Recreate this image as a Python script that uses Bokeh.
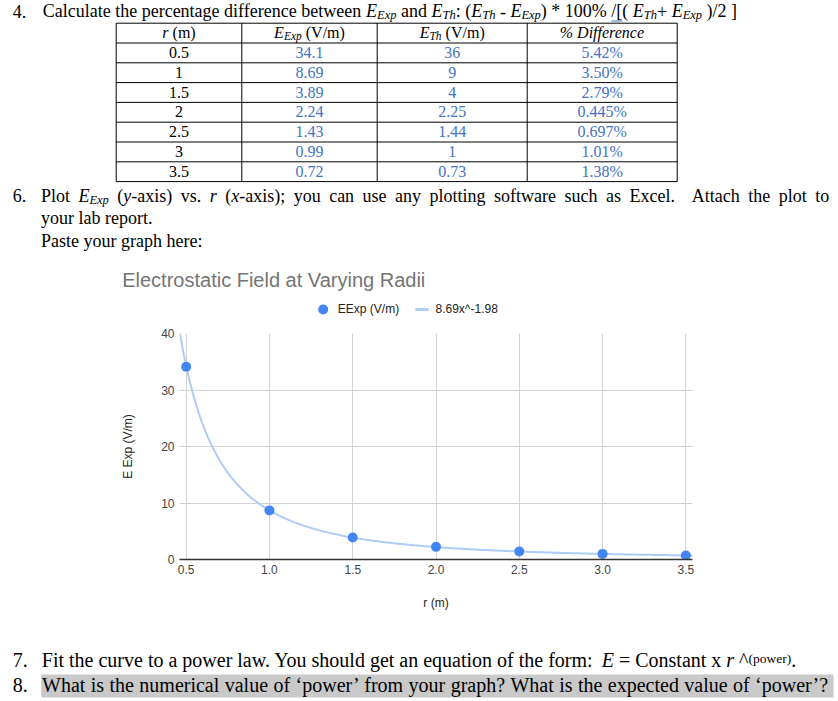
import re
import numpy as np
from bokeh.plotting import figure
from bokeh.models import Range1d, FixedTicker, NumeralTickFormatter, ColumnDataSource
from bokeh.layouts import column
from bokeh.embed import file_html
from bokeh.resources import INLINE
from bokeh.core.properties import value

# ---------------- data ----------------
r_labels = ["0.5", "1", "1.5", "2", "2.5", "3", "3.5"]
e_exp_labels = ["34.1", "8.69", "3.89", "2.24", "1.43", "0.99", "0.72"]
e_th_labels = ["36", "9", "4", "2.25", "1.44", "1", "0.73"]
pct_diff_labels = ["5.42%", "3.50%", "2.79%", "0.445%", "0.697%", "1.01%", "1.38%"]

r_m = [0.5, 1.0, 1.5, 2.0, 2.5, 3.0, 3.5]
e_exp = [34.1, 8.69, 3.89, 2.24, 1.43, 0.99, 0.72]
fit_coef = 8.69
fit_power = -1.98

x_ticks = [0.5, 1.0, 1.5, 2.0, 2.5, 3.0, 3.5]
y_ticks = [0, 10, 20, 30, 40]

chart_title = "Electrostatic Field at Varying Radii"
legend_labels = ["EExp (V/m)", "8.69x^-1.98"]
y_title = "E Exp (V/m)"
x_title = "r (m)"

# ---------------- styles / layout ----------------
SERIF = "Liberation Serif"
SANS = "Liberation Sans"
K_SERIF = 0.3375   # (ascent - descent)/2, baseline below "middle"
K_SANS = 0.3467
W = 838
TOP_H, CHART_H, BOT_H = 323, 307, 70
BODY = 18
BIG = 20
SUB = 12.5
TAB = 16
TSUB = 11.5
BLUE_TXT = "#4472c4"

# Times (Liberation Serif) advance widths, 1/1000 em
TR = {' ': 250, '!': 333, '"': 408, '%': 833, '&': 778, "'": 180, '(': 333, ')': 333,
      '*': 500, '+': 564, ',': 250, '-': 333, '.': 250, '/': 278, ':': 278, ';': 278,
      '=': 564, '?': 444, '[': 333, ']': 333, '^': 469, '\u2018': 333, '\u2019': 333}
TR.update(dict(zip("ABCDEFGHIJKLMNOPQRSTUVWXYZ",
                   [722, 667, 667, 722, 611, 556, 722, 722, 333, 389, 722, 611, 889,
                    722, 722, 556, 722, 667, 556, 611, 722, 722, 944, 722, 722, 611])))
TR.update(dict(zip("abcdefghijklmnopqrstuvwxyz",
                   [444, 500, 444, 500, 444, 333, 500, 500, 278, 278, 500, 278, 778,
                    500, 500, 500, 500, 333, 389, 278, 500, 500, 722, 500, 500, 444])))
TI = dict(TR)
TI.update({'(': 333, ')': 333, ':': 333, '%': 833})
TI.update(dict(zip("ABCDEFGHIJKLMNOPQRSTUVWXYZ",
                   [611, 611, 667, 722, 611, 611, 722, 722, 333, 444, 667, 556, 833,
                    667, 722, 611, 722, 611, 500, 556, 722, 611, 833, 611, 556, 556])))
TI.update(dict(zip("abcdefghijklmnopqrstuvwxyz",
                   [500, 500, 444, 500, 444, 278, 500, 500, 278, 278, 444, 278, 722,
                    500, 500, 500, 500, 389, 389, 278, 500, 444, 667, 444, 444, 389])))


def rw(t, sty, size):
    tab = TI if sty == "italic" else TR
    return sum(tab.get(c, 500) for c in t) * size / 1000.0


def new_rows():
    return dict(x=[], y=[], text=[], fs=[], fst=[], col=[])


def add(rows, x, base, t, size, sty, col, k=K_SERIF):
    # base = alphabetic baseline; stored y is the text's middle
    rows["x"].append(x)
    rows["y"].append(base - k * size)
    rows["text"].append(t)
    rows["fs"].append(f"{size}px")
    rows["fst"].append(sty)
    rows["col"].append(col)


def place_runs(rows, x, y, runs, col="#000000"):
    for t, sty, size, dy in runs:
        lead = len(t) - len(t.lstrip(" "))
        body = t.strip(" ")
        if body:
            add(rows, x + rw(" " * lead, sty, size), y + dy, body, size, sty, col)
        x += rw(t, sty, size)
    return x


def place_justified(rows, x, y, runs, right, col="#000000"):
    items = []
    for t, sty, size, dy in runs:
        for part in re.split(r"( +)", t):
            if part:
                items.append((part, sty, size, dy))
    natural = sum(rw(p, s, z) for p, s, z, d in items)
    nsp = sum(len(p) for p, s, z, d in items if p.startswith(" "))
    extra = max(0.0, (right - x - natural) / nsp)
    for p, s, z, d in items:
        if p.startswith(" "):
            x += rw(p, s, z) + extra * len(p)
        else:
            add(rows, x, y + d, p, z, s, col)
            x += rw(p, s, z)


def place_centered(rows, cx, y, runs, col="#000000"):
    total = sum(rw(t, s, z) for t, s, z, d in runs)
    place_runs(rows, cx - total / 2.0, y, runs, col)


def R(t, size=BODY, dy=0):
    return (t, "normal", size, dy)


def I(t, size=BODY, dy=0):
    return (t, "italic", size, dy)


def S(t, size=SUB, dy=2):
    return (t, "italic", size, dy)


def draw(p, rows, font, align="left"):
    p.text(x="x", y="y", text="text", source=ColumnDataSource(rows),
           text_font=value(font), text_font_size="fs", text_font_style="fst",
           text_color="col", text_align=align, text_baseline="middle")


def canvas(h):
    p = figure(width=W, height=h, x_range=Range1d(0, W), y_range=Range1d(h, 0),
               output_backend="svg", toolbar_location=None,
               x_axis_location=None, y_axis_location=None, min_border=0)
    p.frame_align = False
    p.grid.visible = False
    p.outline_line_color = None
    p.background_fill_color = "white"
    p.border_fill_color = "white"
    return p


NUM_X = 12.3

# ================= top: question 4, table, question 6, chart title/legend =================
top = canvas(TOP_H)
rows = new_rows()

add(rows, NUM_X, 17, "4.", BODY, "normal", "#000000")
line4a = [R("Calculate the percentage difference between "), I("E"), S("Exp"), R(" and "),
          I("E"), S("Th"), R(": ("), I("E"), S("Th"), R(" - "), I("E"), S("Exp"),
          R(") * 100% ")]
line4b = [R("/"), R("[( "), I("E"), S("Th"), R("+ "), I("E"), S("Exp"), R(" )/2 ]")]
x_slash = place_runs(rows, 42.2, 17, line4a)
place_runs(rows, x_slash, 17, line4b)
top.segment(x0=[x_slash], x1=[x_slash + rw("/[", "normal", BODY)], y0=[20.5], y1=[20.5],
            line_color=BLUE_TXT, line_width=1)

# table
col_edges = [115.7, 241.3, 376.7, 526.7, 676.7]
row_top = 22.7
row_h = 19.8
n_rows = 1 + len(r_labels)
row_lines = [row_top + i * row_h for i in range(n_rows + 1)]
top.segment(x0=[col_edges[0]] * len(row_lines), x1=[col_edges[-1]] * len(row_lines),
            y0=row_lines, y1=row_lines, line_color="black", line_width=1)
top.segment(x0=col_edges, x1=col_edges, y0=[row_lines[0]] * len(col_edges),
            y1=[row_lines[-1]] * len(col_edges), line_color="black", line_width=1)

centers = [(col_edges[i] + col_edges[i + 1]) / 2.0 for i in range(4)]
hy = row_top + 14.8
headers = [
    [I("r", TAB), R(" (m)", TAB)],
    [I("E", TAB), S("Exp", TSUB, 2), R(" (V/m)", TAB)],
    [I("E", TAB), S("Th", TSUB, 2), R(" (V/m)", TAB)],
    [I("% Difference", TAB)],
]
for cx, hr in zip(centers, headers):
    place_centered(rows, cx, hy, hr)

cells = new_rows()
for i in range(len(r_labels)):
    y = row_top + (i + 1) * row_h + 14.8
    for j, (lab, colr) in enumerate([(r_labels[i], "#000000"), (e_exp_labels[i], BLUE_TXT),
                                     (e_th_labels[i], BLUE_TXT), (pct_diff_labels[i], BLUE_TXT)]):
        add(cells, centers[j], y, lab, TAB, "normal", colr)

# question 6 (justified first line)
add(rows, NUM_X, 201.3, "6.", BODY, "normal", "#000000")
line6 = [R("Plot "), I("E"), S("Exp"), R(" ("), I("y"), R("-axis) vs. "), I("r"), R(" ("),
         I("x"), R("-axis); you can use any plotting software such as Excel.  Attach the plot to")]
place_justified(rows, 40.4, 201.3, line6, 828.8)
add(rows, 40.5, 223.8, "your lab report.", BODY, "normal", "#000000")
add(rows, 40.5, 246.3, "Paste your graph here:", BODY, "normal", "#000000")

draw(top, rows, SERIF)
draw(top, cells, SERIF, align="center")

# chart title + legend (Google-Sheets style)
srows = new_rows()
add(srows, 121.7, 286, chart_title, 20, "normal", "#757575", K_SANS)
LEG_Y = 309
top.scatter(x=[322.7], y=[LEG_Y], size=10, fill_color="#4285f4", line_color=None)
top.segment(x0=[415], x1=[428], y0=[LEG_Y], y1=[LEG_Y], line_color="#aecbfa", line_width=3)
add(srows, 337.3, 312.6, legend_labels[0], 12, "normal", "#222222", K_SANS)
add(srows, 435.0, 312.6, legend_labels[1], 12, "normal", "#222222", K_SANS)
draw(top, srows, SANS)

# ================= chart =================
chart = figure(width=W, height=CHART_H, x_range=Range1d(0.46, 3.54), y_range=Range1d(0, 40),
               output_backend="svg", toolbar_location=None,
               min_border_left=179, min_border_right=146, min_border_top=10, min_border_bottom=71)
chart.frame_align = False
chart.outline_line_color = None
chart.background_fill_color = "white"
chart.border_fill_color = "white"

xs = np.linspace(0.46, 3.54, 400)
chart.line(xs, fit_coef * xs ** fit_power, line_color="#aecbfa", line_width=2)
chart.scatter(r_m, e_exp, size=10, fill_color="#4285f4", line_color=None)

xa = chart.xaxis[0]
ya = chart.yaxis[0]
xa.ticker = FixedTicker(ticks=x_ticks)
xa.formatter = NumeralTickFormatter(format="0.0")
ya.ticker = FixedTicker(ticks=y_ticks)
ya.formatter = NumeralTickFormatter(format="0")
for ax in (xa, ya):
    ax.major_label_text_font = SANS
    ax.major_label_text_font_size = "12px"
    ax.major_label_text_color = "#444444"
    ax.major_tick_line_color = None
    ax.minor_tick_line_color = None
    ax.major_tick_out = 0
    ax.major_tick_in = 0
    ax.axis_label_text_font = SANS
    ax.axis_label_text_font_size = "12px"
    ax.axis_label_text_font_style = "normal"
    ax.axis_label_text_color = "#222222"
xa.axis_label = x_title
ya.axis_label = y_title
xa.axis_line_color = "#333333"
xa.axis_line_width = 1.3
ya.axis_line_color = None
xa.major_label_standoff = 5
ya.major_label_standoff = 5
xa.axis_label_standoff = 19
ya.axis_label_standoff = 23

chart.xgrid.ticker = FixedTicker(ticks=x_ticks)
chart.ygrid.ticker = FixedTicker(ticks=y_ticks[1:])
chart.grid.grid_line_color = "#d3d3d3"
chart.grid.grid_line_width = 1

# ================= bottom: questions 7, 8 =================
bot = canvas(BOT_H)
bot.quad(left=[40.7], right=[833], top=[44.0], bottom=[67.0], fill_color="#c9c9c9", line_color=None)
brows = new_rows()
add(brows, NUM_X, 36.5, "7.", BIG, "normal", "#000000")
line7 = [R("Fit the curve to a power law. You should get an equation of the form: ", BIG),
         I("E", BIG), R(" = Constant x ", BIG), I("r", BIG), R(" ^", BIG),
         R("(power)", 13.5, -4), R(".", BIG)]
place_runs(brows, 41.3, 36.5, line7)
add(brows, NUM_X, 61.5, "8.", BIG, "normal", "#000000")
line8 = [R("What is the numerical value of \u2018power\u2019 from your graph? "
           "What is the expected value of \u2018power\u2019?", BIG)]
place_justified(brows, 41.5, 61.5, line8, 826.8)
draw(bot, brows, SERIF)

page = column(top, chart, bot)
open("out.html", "w").write(file_html(page, INLINE))
